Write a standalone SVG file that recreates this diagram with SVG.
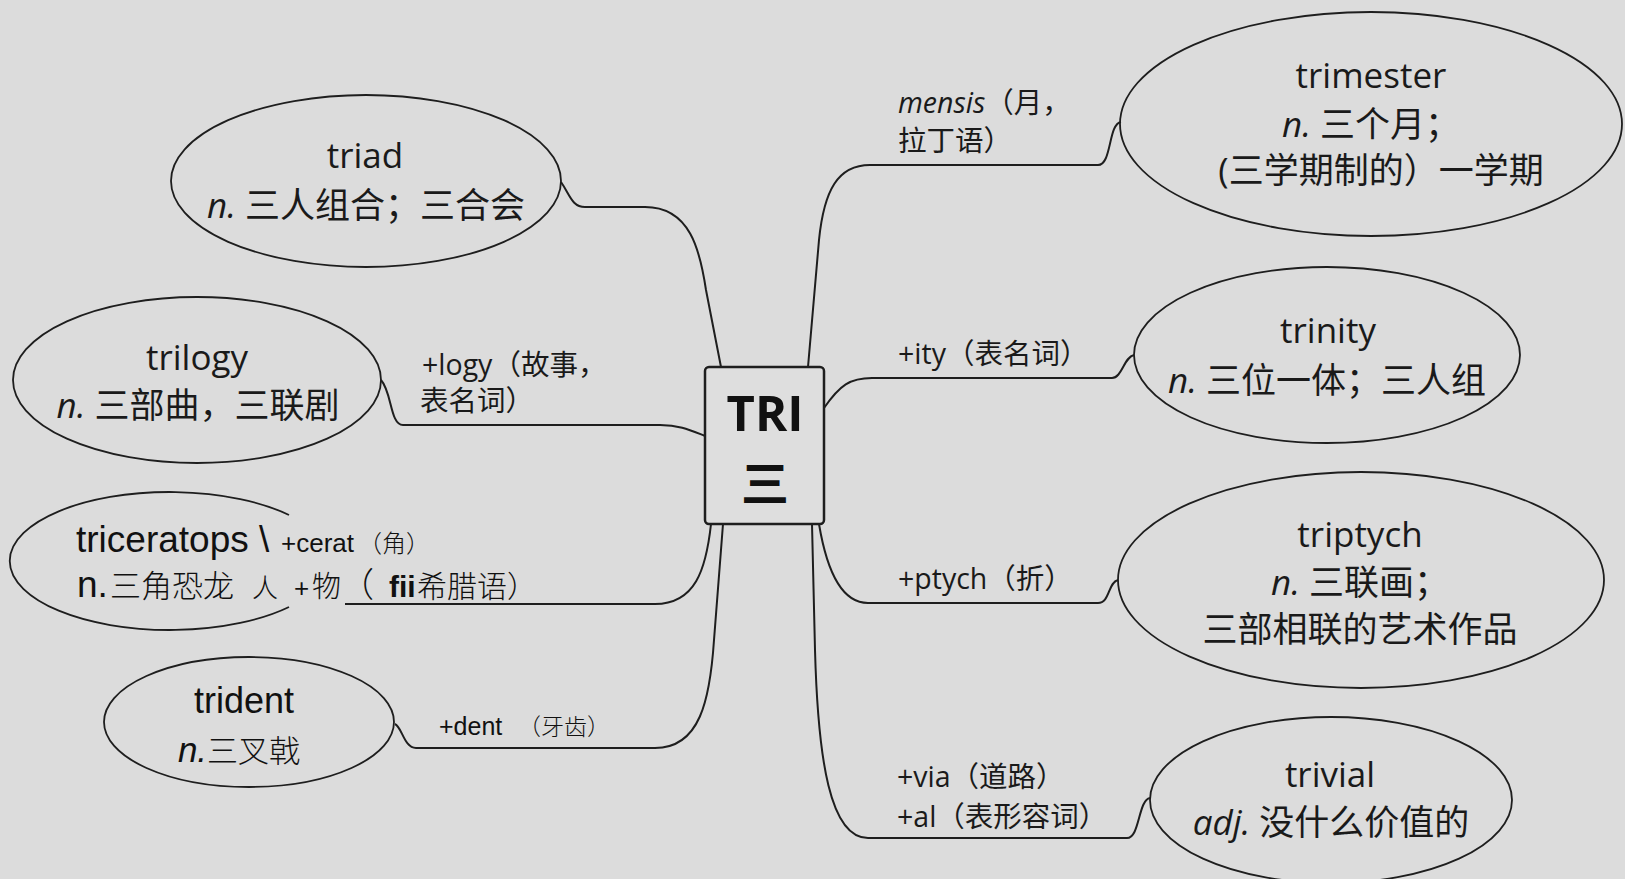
<svg xmlns="http://www.w3.org/2000/svg" width="1625" height="879" viewBox="0 0 1625 879">
<style>
.bg{fill:#dcdcdc}
.ell{fill:none;stroke:#1e1e1e;stroke-width:1.8}
.con{fill:none;stroke:#1e1e1e;stroke-width:2}
.t{font-family:"Open Sans","Noto Sans CJK SC",sans-serif;font-size:35px;fill:#1a1a1a}
.lb{font-family:"Open Sans","Noto Sans CJK SC",sans-serif;font-size:28.5px;fill:#1a1a1a}
.a{font-family:"Liberation Sans","Noto Sans CJK SC",sans-serif;fill:#111}
.thin{font-family:"Noto Sans CJK SC",sans-serif;font-weight:300;fill:#111}
.m{text-anchor:middle}
</style>
<rect class="bg" x="0" y="0" width="1625" height="879"/>
<g id="connectors">
<path class="con" d="M561,182 C570,195 572,207 585,207 L645,207 C690,207 700,250 706,290 L721,367"/>
<path class="con" d="M381,380 C392,392 390,425 403,425 L660,425 C680,425 690,430 705,436"/>
<path class="con" d="M711,524 C706,570 695,604 655,604 L345,604"/>
<path class="con" d="M723,524 L714,640 C710,700 700,748 655,748 L416,748 C404,748 402,727 395,724"/>
<path class="con" d="M808,367 L819,240 C824,190 838,165 870,165 L1098,165 C1112,165 1108,124 1121,122"/>
<path class="con" d="M824,408 C840,385 850,378 872,378 L1112,378 C1122,378 1124,357 1134,355"/>
<path class="con" d="M819,524 C825,560 838,603 868,603 L1098,603 C1110,603 1108,582 1118,580"/>
<path class="con" d="M812,524 L815,650 C818,760 830,838 868,838 L1127,838 C1140,838 1138,800 1150,798"/>
<text class="lb" x="422" y="375">+logy（故事，</text>
<text class="lb" x="420" y="411">表名词）</text>
<text class="a" x="281" y="552" font-size="26">+cerat</text>
<text class="thin" x="358" y="552" font-size="24">（角）</text>
<text class="a" x="439" y="735" font-size="25">+dent</text>
<text class="thin" x="518" y="735" font-size="23">（牙齿）</text>
<text class="lb" x="898" y="113"><tspan font-style="italic">mensis</tspan>（月，</text>
<text class="lb" x="898" y="151">拉丁语）</text>
<text class="lb" x="898" y="364">+ity（表名词）</text>
<text class="lb" x="898" y="589">+ptych（折）</text>
<text class="lb" x="897" y="787">+via（道路）</text>
<text class="lb" x="897" y="827">+al（表形容词）</text>
</g>
<g id="center">
<rect x="705" y="367" width="119" height="157" rx="4" fill="#dedede" stroke="#1e1e1e" stroke-width="2.5"/>
<text x="765" y="431" text-anchor="middle" font-family="'Open Sans',sans-serif" font-weight="bold" font-size="49" fill="#111">TRI</text>
<text x="765" y="501" text-anchor="middle" font-family="'Noto Sans CJK SC',sans-serif" font-weight="bold" font-size="48" fill="#111">三</text>
</g>
<g id="triad">
<ellipse class="ell" cx="366" cy="181" rx="195" ry="86"/>
<text class="t m" x="365" y="168">triad</text>
<text class="t m" x="366" y="218"><tspan font-style="italic">n.</tspan> 三人组合；三合会</text>
</g>
<g id="trilogy">
<ellipse class="ell" cx="197" cy="380" rx="184" ry="83"/>
<text class="t m" x="197" y="370">trilogy</text>
<text class="t m" x="198" y="418"><tspan font-style="italic">n.</tspan> 三部曲，三联剧</text>
</g>
<g id="triceratops">
<path class="ell" d="M289,515 A160,69 0 1 0 289,607"/>
<text class="a" x="76" y="552" font-size="37">triceratops \</text>
<text class="a" x="77" y="597" font-size="37">n.</text>
<text class="thin" x="110" y="597" font-size="31">三角恐龙</text>
<text class="thin" x="252" y="597" font-size="26">人</text>
<text class="a" x="294" y="597" font-size="26">+</text>
<text class="thin" x="312" y="597" font-size="29">物</text>
<text class="thin" x="340" y="597" font-size="34">（</text>
<text class="a" x="389" y="597" font-size="30" font-weight="bold">fii</text>
<text class="thin" x="417" y="597" font-size="30">希腊语）</text>
</g>
<g id="trident">
<ellipse class="ell" cx="249" cy="722" rx="145" ry="65"/>
<text class="a m" x="244" y="713" font-size="36">trident</text>
<text x="239" y="762" text-anchor="middle"><tspan class="a" font-size="35" font-style="italic">n.</tspan><tspan class="thin" font-size="31">三叉戟</tspan></text>
</g>
<g id="trimester">
<ellipse class="ell" cx="1371" cy="124" rx="251" ry="112"/>
<text class="t m" x="1371" y="88">trimester</text>
<text class="t m" x="1371" y="137"><tspan font-style="italic">n.</tspan> 三个月；</text>
<text class="t m" x="1381" y="183">(三学期制的）一学期</text>
</g>
<g id="trinity">
<ellipse class="ell" cx="1327" cy="355" rx="193" ry="88"/>
<text class="t m" x="1328" y="343">trinity</text>
<text class="t m" x="1327" y="393"><tspan font-style="italic">n.</tspan> 三位一体；三人组</text>
</g>
<g id="triptych">
<ellipse class="ell" cx="1361" cy="580" rx="243" ry="108"/>
<text class="t m" x="1360" y="547">triptych</text>
<text class="t m" x="1360" y="595"><tspan font-style="italic">n.</tspan> 三联画；</text>
<text class="t m" x="1360" y="642">三部相联的艺术作品</text>
</g>
<g id="trivial">
<ellipse class="ell" cx="1331" cy="800" rx="181" ry="83"/>
<text class="t m" x="1330" y="787">trivial</text>
<text class="t m" x="1331" y="835"><tspan font-style="italic">adj.</tspan> 没什么价值的</text>
</g>
</svg>
